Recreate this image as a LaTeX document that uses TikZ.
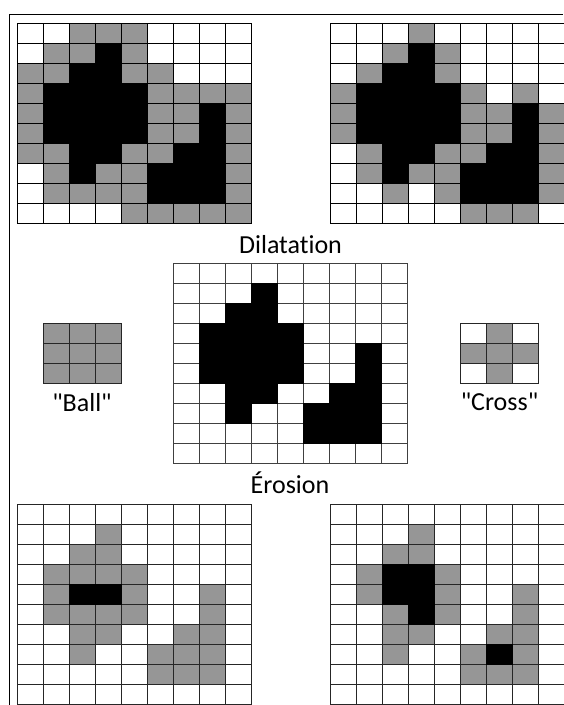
\documentclass[tikz,border=0pt]{standalone}
\usepackage{fontspec}
\setmainfont{Carlito}[Ligatures={NoCommon}]
\definecolor{c0}{HTML}{FFFFFF}
\definecolor{c1}{HTML}{969696}
\definecolor{c2}{HTML}{000000}
\newcommand\mygrid[4]{% #1=x, #2=y, #3=line colour, #4=rows
  \foreach \row [count=\r] in {#4}{
    \foreach \v [count=\c] in \row {
      \path[cellline,draw=#3,fill=c\v] ({#1+(\c-1)*26.1},{#2+(\r-1)*20}) rectangle ++(26.1,20);
    }
  }
  \foreach \row [count=\r] in {#4}{
    \foreach \v [count=\c] in \row {
      \ifnum\v=2
        \path[cellline,draw=black,fill=black] ({#1+(\c-1)*26.1},{#2+(\r-1)*20}) rectangle ++(26.1,20);
      \fi
    }
  }
}
\begin{document}
\begin{tikzpicture}[x=1pt,y=-1pt,
  cellline/.style={line width=1pt},
  lbl/.style={font=\fontsize{26}{30}\selectfont,inner sep=0pt,anchor=base}]
\useasboundingbox (0,0) rectangle (563,705);
\fill[white] (0,0) rectangle (563,705);
% frame
\coordinate (fbl) at (9.5,705);
\coordinate (ftl) at (9.5,14);
\coordinate (ftr) at (563,14);
\draw[line width=1pt] (fbl) -- (ftl) -- (ftr);
% top-left: dilation with ball
\mygrid{17}{23}{black}{
 {0,0,1,1,1,0,0,0,0},
 {0,1,1,2,1,0,0,0,0},
 {1,1,2,2,1,1,0,0,0},
 {1,2,2,2,2,1,1,1,1},
 {1,2,2,2,2,1,1,2,1},
 {1,2,2,2,2,1,1,2,1},
 {1,1,2,2,1,1,2,2,1},
 {0,1,2,1,1,2,2,2,1},
 {0,1,1,1,1,2,2,2,1},
 {0,0,0,0,1,1,1,1,1}}
% top-right: dilation with cross
\mygrid{330}{23}{black}{
 {0,0,0,1,0,0,0,0,0},
 {0,0,1,2,1,0,0,0,0},
 {0,1,2,2,1,0,0,0,0},
 {1,2,2,2,2,1,0,1,0},
 {1,2,2,2,2,1,1,2,1},
 {1,2,2,2,2,1,1,2,1},
 {0,1,2,2,1,1,2,2,1},
 {0,1,2,1,1,2,2,2,1},
 {0,0,1,0,1,2,2,2,1},
 {0,0,0,0,0,1,1,1,0}}
% centre: original
\mygrid{173}{263}{black!75}{
 {0,0,0,0,0,0,0,0,0},
 {0,0,0,2,0,0,0,0,0},
 {0,0,2,2,0,0,0,0,0},
 {0,2,2,2,2,0,0,0,0},
 {0,2,2,2,2,0,0,2,0},
 {0,2,2,2,2,0,0,2,0},
 {0,0,2,2,0,0,2,2,0},
 {0,0,2,0,0,2,2,2,0},
 {0,0,0,0,0,2,2,2,0},
 {0,0,0,0,0,0,0,0,0}}
% bottom-left: erosion with ball
\mygrid{17}{504}{black!85}{
 {0,0,0,0,0,0,0,0,0},
 {0,0,0,1,0,0,0,0,0},
 {0,0,1,1,0,0,0,0,0},
 {0,1,1,1,1,0,0,0,0},
 {0,1,2,2,1,0,0,1,0},
 {0,1,1,1,1,0,0,1,0},
 {0,0,1,1,0,0,1,1,0},
 {0,0,1,0,0,1,1,1,0},
 {0,0,0,0,0,1,1,1,0},
 {0,0,0,0,0,0,0,0,0}}
% bottom-right: erosion with cross
\mygrid{330}{504}{black!85}{
 {0,0,0,0,0,0,0,0,0},
 {0,0,0,1,0,0,0,0,0},
 {0,0,1,1,0,0,0,0,0},
 {0,1,2,2,1,0,0,0,0},
 {0,1,2,2,1,0,0,1,0},
 {0,0,1,2,1,0,0,1,0},
 {0,0,1,1,0,0,1,1,0},
 {0,0,1,0,0,1,2,1,0},
 {0,0,0,0,0,1,1,1,0},
 {0,0,0,0,0,0,0,0,0}}
% structuring elements
\mygrid{43}{323}{black!85}{{1,1,1},{1,1,1},{1,1,1}}
\mygrid{460}{323}{black!85}{{0,1,0},{1,1,1},{0,1,0}}
% labels
\node[lbl] (dil) at (290.5,253) {Dilatation};
\node[lbl] (ero) at (290,493) {Érosion};
\node[lbl] (ball) at (82,411) {\textquotedbl Ball\textquotedbl};
\node[lbl] (cross) at (499.5,410) {\textquotedbl Cross\textquotedbl};
\end{tikzpicture}
\end{document}
